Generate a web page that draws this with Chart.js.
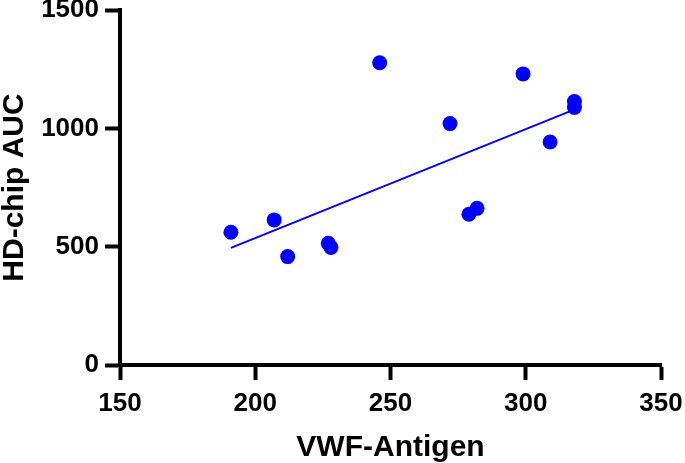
<!DOCTYPE html>
<html lang="en">
<head>
    <meta charset="UTF-8">
    <title>HD-chip AUC vs VWF-Antigen</title>
    <script src="https://cdn.jsdelivr.net/npm/chart.js@4.4.0/dist/chart.umd.min.js"></script>
    <style>
        html, body { margin: 0; padding: 0; background: #fff; }
        #wrap { width: 685px; height: 463px; }
    </style>
</head>
<body>
<div id="wrap"><canvas id="scatter"></canvas></div>
<script>
    // values
    const vwfAntigen = [191, 207, 212, 227, 228, 246, 272, 279, 282, 299, 309, 318, 318];
    const hdChipAuc = [561, 613, 458, 514, 497, 1277, 1020, 637, 662, 1230, 942, 1113, 1088];
    const fitX = [191, 317];
    const fitY = [495, 1075];
    const xTicks = [150, 200, 250, 300, 350];
    const yTicks = [0, 500, 1000, 1500];

    const fontFamily = '"Liberation Sans", Arial, sans-serif';
    const blue = '#0000ff';

    const axisCommon = {
        border: { color: '#000', width: 4 },
        grid: { drawOnChartArea: false, drawTicks: true, tickLength: 15, tickColor: '#000', tickWidth: 4 }
    };

    new Chart(document.getElementById('scatter'), {
        type: 'scatter',
        data: {
            datasets: [{
                data: vwfAntigen.map((x, i) => ({ x: x, y: hdChipAuc[i] })),
                backgroundColor: blue,
                borderWidth: 0,
                pointRadius: 7.5,
                pointHoverRadius: 7.5
            }, {
                type: 'line',
                data: fitX.map((x, i) => ({ x: x, y: fitY[i] })),
                borderColor: blue,
                borderWidth: 2,
                pointRadius: 0,
                fill: false
            }]
        },
        options: {
            responsive: true,
            maintainAspectRatio: false,
            animation: false,
            layout: { padding: { top: 10, right: 24, bottom: 0, left: 0 } },
            plugins: { legend: { display: false }, tooltip: { enabled: false } },
            scales: {
                x: {
                    ...axisCommon,
                    type: 'linear',
                    min: xTicks[0],
                    max: xTicks[xTicks.length - 1],
                    afterBuildTicks: s => { s.ticks = xTicks.map(v => ({ value: v })); },
                    afterFit: s => { s.height = 98; s.paddingLeft = 0; s.paddingRight = 0; },
                    ticks: {
                        color: '#000', padding: 11,
                        callback: v => String(v),
                        font: { family: fontFamily, size: 26, weight: 'bold', lineHeight: 1 }
                    },
                    title: {
                        display: true,
                        text: 'VWF-Antigen',
                        color: '#000',
                        padding: { top: 0, bottom: 0 },
                        font: { family: fontFamily, size: 30, weight: 'bold', lineHeight: 1 }
                    }
                },
                y: {
                    ...axisCommon,
                    min: yTicks[0],
                    max: yTicks[yTicks.length - 1],
                    afterBuildTicks: s => { s.ticks = yTicks.map(v => ({ value: v })); },
                    afterFit: s => { s.width = 120; s.paddingTop = 0; s.paddingBottom = 0; },
                    ticks: {
                        color: '#000', padding: 6,
                        callback: v => String(v),
                        font: { family: fontFamily, size: 26, weight: 'bold', lineHeight: 1 }
                    },
                    title: {
                        display: true,
                        text: 'HD-chip AUC',
                        color: '#000',
                        padding: { top: 0, bottom: 0 },
                        font: { family: fontFamily, size: 30, weight: 'bold', lineHeight: 1 }
                    }
                }
            }
        }
    });
</script>
</body>
</html>
